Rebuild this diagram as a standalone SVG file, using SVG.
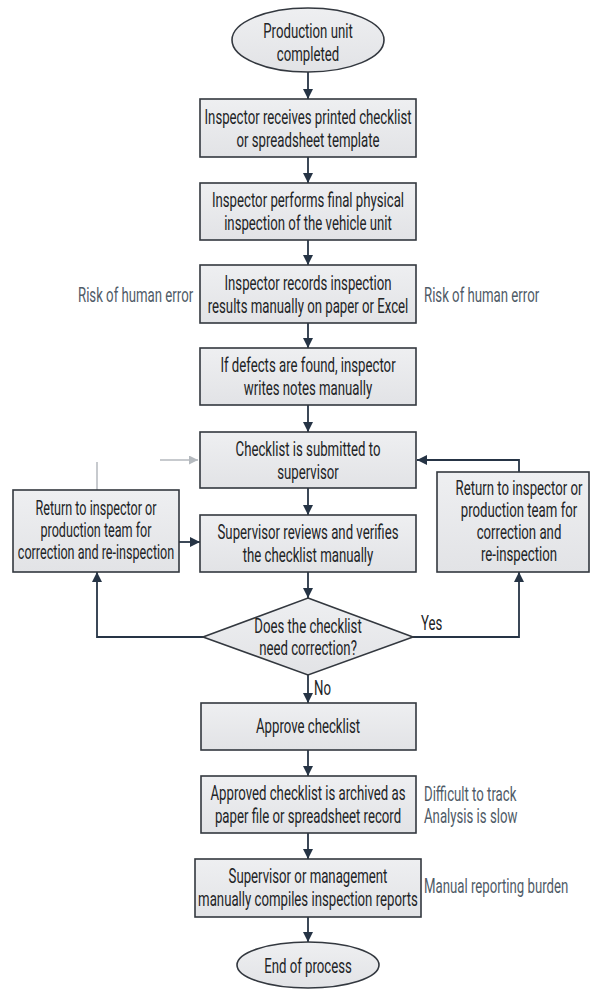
<svg xmlns="http://www.w3.org/2000/svg" width="590" height="989" viewBox="0 0 590 989">
<defs>
<linearGradient id="g" x1="0" y1="0" x2="0" y2="1"><stop offset="0" stop-color="#eeeff1"/><stop offset="1" stop-color="#e2e3e6"/></linearGradient>
<marker id="ah" viewBox="0 0 10 10" refX="10" refY="5" markerWidth="10" markerHeight="10" markerUnits="userSpaceOnUse" orient="auto"><path d="M0,0 L10,5 L0,10 Z" fill="#263445"/></marker>
<marker id="ahg" viewBox="0 0 10 10" refX="10" refY="5" markerWidth="9" markerHeight="9" markerUnits="userSpaceOnUse" orient="auto"><path d="M0,0 L10,5 L0,10 Z" fill="#b4b9be"/></marker>
</defs>
<style>
.b{fill:url(#g);stroke:#33383f;stroke-width:1.6}
.t{font-family:Roboto,"Liberation Sans",sans-serif;font-size:20px;fill:#222426;text-anchor:middle}
.n{font-family:Roboto,"Liberation Sans",sans-serif;font-size:20px;fill:#4f5b67}
.c{fill:none;stroke:#263445;stroke-width:1.8}
.f{fill:none;stroke:#b4b9be;stroke-width:1.5}
</style>
<rect width="590" height="989" fill="#ffffff"/>
<g id="connectors">
<line class="c" x1="308" y1="71" x2="308" y2="99" marker-end="url(#ah)"/>
<line class="c" x1="308" y1="157" x2="308" y2="183" marker-end="url(#ah)"/>
<line class="c" x1="308" y1="240" x2="308" y2="265" marker-end="url(#ah)"/>
<line class="c" x1="308" y1="323" x2="308" y2="348" marker-end="url(#ah)"/>
<line class="c" x1="308" y1="405" x2="308" y2="432" marker-end="url(#ah)"/>
<line class="c" x1="308" y1="488" x2="308" y2="515" marker-end="url(#ah)"/>
<line class="c" x1="308" y1="572" x2="308" y2="598" marker-end="url(#ah)"/>
<line class="c" x1="308" y1="675" x2="308" y2="703" marker-end="url(#ah)"/>
<line class="c" x1="308" y1="750" x2="308" y2="776" marker-end="url(#ah)"/>
<line class="c" x1="308" y1="833" x2="308" y2="859" marker-end="url(#ah)"/>
<line class="c" x1="308" y1="917" x2="308" y2="942" marker-end="url(#ah)"/>
<polyline class="c" points="203,637 97,637 97,572" marker-end="url(#ah)"/>
<polyline class="c" points="413,637 519,637 519,572" marker-end="url(#ah)"/>
<polyline class="c" points="519,472 519,460 417,460" marker-end="url(#ah)"/>
<line class="c" x1="179" y1="542" x2="200" y2="542" marker-end="url(#ah)"/>
<line class="f" x1="97" y1="462" x2="97" y2="490"/>
<line class="f" x1="160" y1="460" x2="198" y2="460" marker-end="url(#ahg)"/>
</g>
<g id="start">
<ellipse class="b" cx="308" cy="40" rx="76" ry="32"/>
<text class="t" transform="translate(308,38) scale(0.66,1)">Production unit</text>
<text class="t" transform="translate(308,61) scale(0.66,1)">completed</text>
</g>
<g id="receive">
<rect class="b" x="200" y="99" width="216" height="58"/>
<text class="t" transform="translate(308,124) scale(0.66,1)">Inspector receives printed checklist</text>
<text class="t" transform="translate(308,147) scale(0.66,1)">or spreadsheet template</text>
</g>
<g id="inspect">
<rect class="b" x="200" y="183" width="216" height="57"/>
<text class="t" transform="translate(308,207) scale(0.66,1)">Inspector performs final physical</text>
<text class="t" transform="translate(308,230) scale(0.66,1)">inspection of the vehicle unit</text>
</g>
<g id="record">
<rect class="b" x="200" y="265" width="216" height="58"/>
<text class="t" transform="translate(308,290) scale(0.66,1)">Inspector records inspection</text>
<text class="t" transform="translate(308,313) scale(0.66,1)">results manually on paper or Excel</text>
</g>
<g id="notes">
<rect class="b" x="200" y="348" width="216" height="57"/>
<text class="t" transform="translate(308,372) scale(0.66,1)">If defects are found, inspector</text>
<text class="t" transform="translate(308,395) scale(0.66,1)">writes notes manually</text>
</g>
<g id="submit">
<rect class="b" x="200" y="432" width="216" height="56"/>
<text class="t" transform="translate(308,456) scale(0.66,1)">Checklist is submitted to</text>
<text class="t" transform="translate(308,479) scale(0.66,1)">supervisor</text>
</g>
<g id="review">
<rect class="b" x="200" y="515" width="216" height="57"/>
<text class="t" transform="translate(308,539) scale(0.66,1)">Supervisor reviews and verifies</text>
<text class="t" transform="translate(308,562) scale(0.66,1)">the checklist manually</text>
</g>
<g id="returnLeft">
<rect class="b" x="13" y="490" width="166" height="82"/>
<text class="t" transform="translate(96,515) scale(0.63,1)">Return to inspector or</text>
<text class="t" transform="translate(96,537) scale(0.63,1)">production team for</text>
<text class="t" transform="translate(96,559) scale(0.63,1)">correction and re-inspection</text>
</g>
<g id="returnRight">
<rect class="b" x="437" y="472" width="152" height="100"/>
<text class="t" transform="translate(519,495) scale(0.66,1)">Return to inspector or</text>
<text class="t" transform="translate(519,517) scale(0.66,1)">production team for</text>
<text class="t" transform="translate(519,539) scale(0.66,1)">correction and</text>
<text class="t" transform="translate(519,561) scale(0.66,1)">re-inspection</text>
</g>
<g id="decision">
<polygon class="b" points="308,598 413,637 308,675 203,637"/>
<text class="t" transform="translate(308,633) scale(0.66,1)">Does the checklist</text>
<text class="t" transform="translate(308,655) scale(0.66,1)">need correction?</text>
</g>
<g id="approve">
<rect class="b" x="201" y="703" width="215" height="47"/>
<text class="t" transform="translate(308,733) scale(0.66,1)">Approve checklist</text>
</g>
<g id="archive">
<rect class="b" x="201" y="776" width="215" height="57"/>
<text class="t" transform="translate(308,800) scale(0.66,1)">Approved checklist is archived as</text>
<text class="t" transform="translate(308,823) scale(0.66,1)">paper file or spreadsheet record</text>
</g>
<g id="reports">
<rect class="b" x="195" y="859" width="226" height="58"/>
<text class="t" transform="translate(308,883) scale(0.66,1)">Supervisor or management</text>
<text class="t" transform="translate(308,906) scale(0.66,1)">manually compiles inspection reports</text>
</g>
<g id="end">
<ellipse class="b" cx="308" cy="965" rx="71" ry="23"/>
<text class="t" transform="translate(308,973) scale(0.66,1)">End of process</text>
</g>
<g id="labels">
<text class="n" transform="translate(421,630) scale(0.66,1)" style="fill:#222426">Yes</text>
<text class="n" transform="translate(314,695) scale(0.66,1)" style="fill:#222426">No</text>
<text class="n" transform="translate(78,302) scale(0.66,1)">Risk of human error</text>
<text class="n" transform="translate(424,302) scale(0.66,1)">Risk of human error</text>
<text class="n" transform="translate(424,801) scale(0.66,1)">Difficult to track</text>
<text class="n" transform="translate(424,823) scale(0.66,1)">Analysis is slow</text>
<text class="n" transform="translate(424,893) scale(0.66,1)">Manual reporting burden</text>
</g>
</svg>
